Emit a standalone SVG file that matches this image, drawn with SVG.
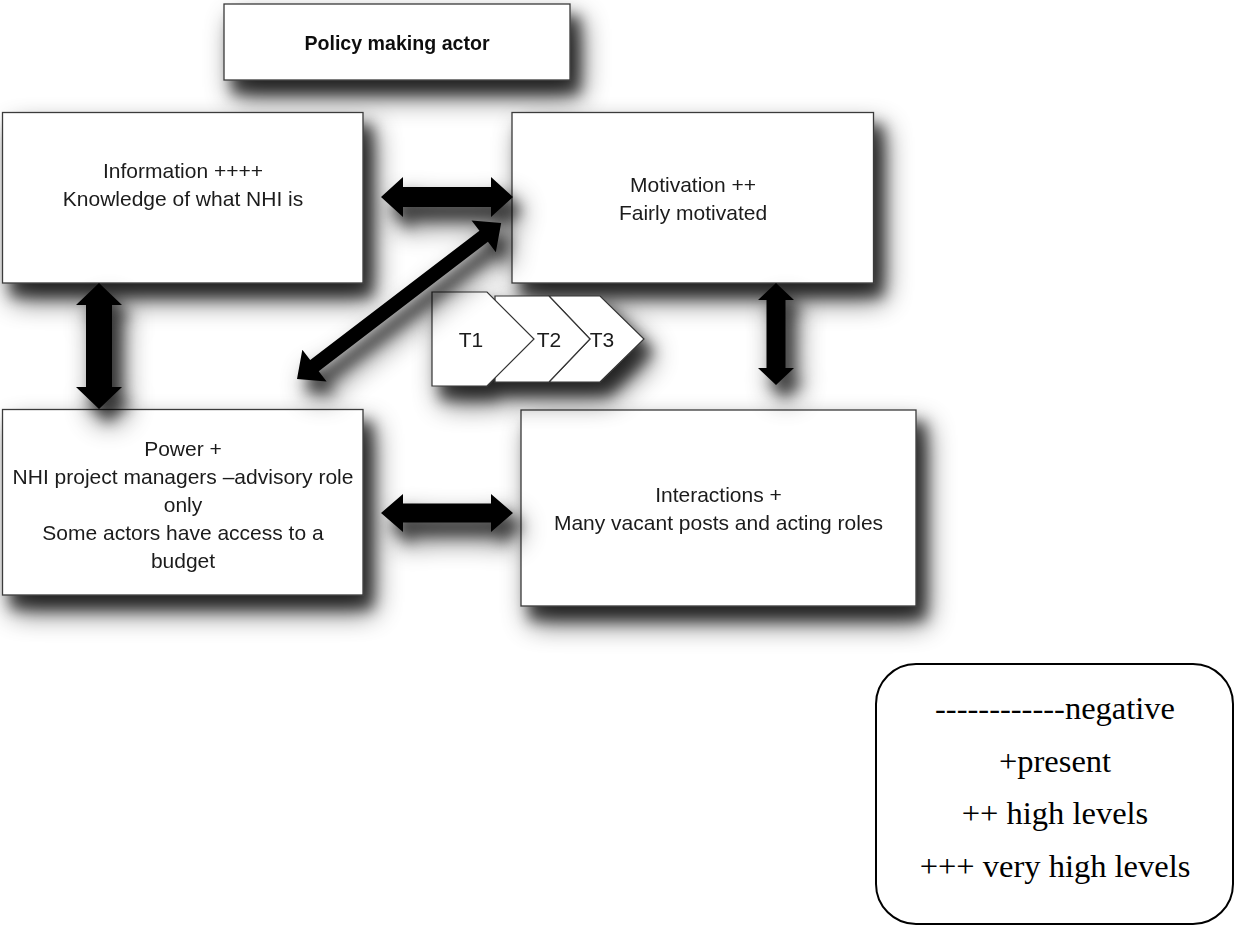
<svg xmlns="http://www.w3.org/2000/svg" width="1235" height="934" viewBox="0 0 1235 934">
<defs>
<style>
.box{fill:#fff;stroke:#3a3a3a;stroke-width:1.3}
.t{font-family:"Liberation Sans",Arial,sans-serif;font-size:21px;fill:#1a1a1a;text-anchor:middle}
.tb{font-family:"Liberation Sans",Arial,sans-serif;font-size:19.6px;font-weight:bold;fill:#111;text-anchor:middle}
.arr{fill:#000}
.chev{fill:#fff;stroke:#333;stroke-width:1.2}
.leg{fill:#fff;stroke:#000;stroke-width:2}
.lt{font-family:"Liberation Serif","Times New Roman",serif;font-size:32.5px;fill:#000;text-anchor:middle}
</style>
<filter id="sh" x="-40%" y="-40%" width="190%" height="210%">
<feGaussianBlur in="SourceAlpha" stdDeviation="7" result="b1"/>
<feOffset in="b1" dx="9" dy="13" result="o1"/>
<feComponentTransfer in="o1" result="s1"><feFuncA type="linear" slope="0.6"/></feComponentTransfer>
<feGaussianBlur in="SourceAlpha" stdDeviation="14" result="b2"/>
<feOffset in="b2" dx="10" dy="16" result="o2"/>
<feComponentTransfer in="o2" result="s2"><feFuncA type="linear" slope="0.7"/></feComponentTransfer>
<feMerge><feMergeNode in="s2"/><feMergeNode in="s1"/><feMergeNode in="SourceGraphic"/></feMerge>
</filter>
</defs>
<rect width="1235" height="934" fill="#fff"/>

<g id="policy" filter="url(#sh)">
<rect class="box" x="224" y="4" width="346" height="76"/>
<text class="tb" x="397" y="50">Policy making actor</text>
</g>

<g id="information" filter="url(#sh)">
<rect class="box" x="2.5" y="112.5" width="360.5" height="170.5"/>
<text class="t" x="183" y="178">Information ++++</text>
<text class="t" x="183" y="206">Knowledge of what NHI is</text>
</g>

<g id="motivation" filter="url(#sh)">
<rect class="box" x="512" y="112.5" width="361.5" height="170.5"/>
<text class="t" x="693" y="192">Motivation ++</text>
<text class="t" x="693" y="220">Fairly motivated</text>
</g>

<g id="power" filter="url(#sh)">
<rect class="box" x="2.5" y="409.5" width="360.5" height="185.5"/>
<text class="t" x="183" y="456">Power +</text>
<text class="t" x="183" y="484">NHI project managers –advisory role</text>
<text class="t" x="183" y="512">only</text>
<text class="t" x="183" y="540">Some actors have access to a</text>
<text class="t" x="183" y="568">budget</text>
</g>

<g id="interactions" filter="url(#sh)">
<rect class="box" x="521" y="410" width="395" height="196"/>
<text class="t" x="718.5" y="502">Interactions +</text>
<text class="t" x="718.5" y="530">Many vacant posts and acting roles</text>
</g>

<g id="timeline" filter="url(#sh)">
<polygon class="chev" points="549,296 600,296 644,339 600,382 549,382 590,339"/>
<polygon class="chev" points="495,296 549,296 590,339 549,382 495,382"/>
<polygon class="chev" points="432,292 487,292 534,339 487,386 432,386"/>
<text class="t" x="471" y="347">T1</text>
<text class="t" x="549" y="347">T2</text>
<text class="t" x="602" y="347">T3</text>
</g>

<g id="connectors" filter="url(#sh)">
<polygon class="arr" points="381,197 403,177 403,187 491,187 491,177 513,197 491,217 491,207 403,207 403,217"/>
<polygon class="arr" points="381,513 403,494 403,503.5 491,503.5 491,494 513,513 491,532 491,522.5 403,522.5 403,532"/>
<polygon class="arr" points="99,283 122,305 112,305 112,387 122,387 99,409 76,387 86,387 86,305 76,305"/>
<polygon class="arr" points="776,283 794,300 785.5,300 785.5,368 794,368 776,385 758,368 766.5,368 766.5,300 758,300"/>
<polygon class="arr" transform="translate(297,379) rotate(-37.4)" points="0,0 22,-20 22,-7 235,-7 235,-20 257,0 235,20 235,7 22,7 22,20"/>
</g>

<g id="legend">
<rect class="leg" x="876" y="664" width="357" height="260" rx="40" ry="40"/>
<text class="lt" x="1055" y="719">------------negative</text>
<text class="lt" x="1055" y="772">+present</text>
<text class="lt" x="1055" y="824">++ high levels</text>
<text class="lt" x="1055" y="877">+++ very high levels</text>
</g>
</svg>
